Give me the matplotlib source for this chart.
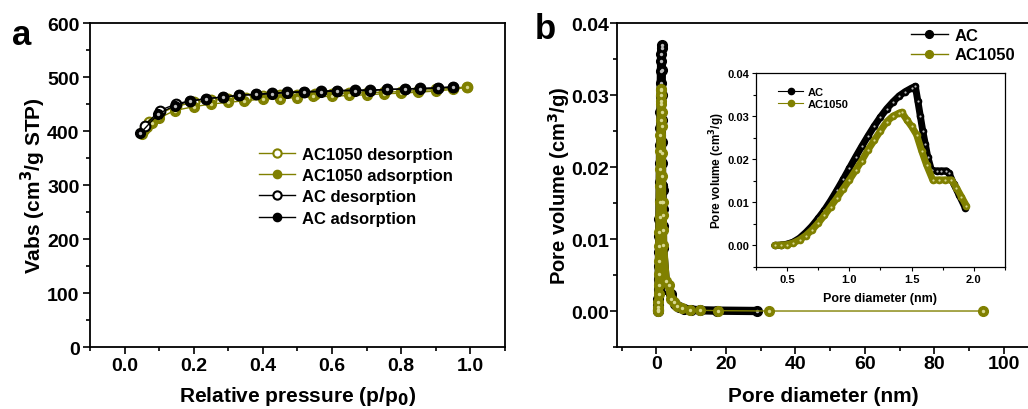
import matplotlib
matplotlib.use('Agg')
import matplotlib.pyplot as plt
from matplotlib.ticker import MultipleLocator

plt.rcParams['font.family'] = ['Liberation Sans', 'DejaVu Sans']
plt.rcParams['font.weight'] = 'bold'
plt.rcParams['axes.labelweight'] = 'bold'

OLIVE = '#808000'

# ---- panel a: isotherms ----
ac_ads_p = [0.046, 0.098, 0.145, 0.188, 0.237, 0.286, 0.33, 0.38, 0.425, 0.47,
            0.52, 0.567, 0.613, 0.665, 0.71, 0.76, 0.81, 0.855, 0.905, 0.95]
ac_ads_v = [396, 432, 447, 455, 460, 463, 466, 468, 469, 471,
            472, 473, 474, 475, 475, 477, 478, 478, 480, 481]
ac_des_p = [0.95, 0.905, 0.855, 0.81, 0.76, 0.71, 0.665, 0.613, 0.567, 0.52,
            0.47, 0.425, 0.38, 0.33, 0.286, 0.237, 0.19, 0.148, 0.102, 0.058]
ac_des_v = [482, 480, 479, 478, 477, 476, 476, 475, 474, 473,
            472, 470, 468, 466, 463, 460, 456, 450, 438, 410]
ac1050_ads_p = [0.05, 0.055, 0.065, 0.08, 0.1, 0.145, 0.2, 0.25, 0.3, 0.345,
                0.4, 0.45, 0.5, 0.546, 0.6, 0.65, 0.7, 0.75, 0.8, 0.85, 0.9, 0.95, 0.99]
ac1050_ads_v = [395, 402, 407, 415, 424, 438, 445, 450, 453, 456,
                459, 460, 462, 464, 464, 466, 467, 469, 470, 472, 474, 477, 481]
ac1050_des_p = [0.99, 0.95, 0.9, 0.85, 0.8, 0.75, 0.7, 0.65, 0.6, 0.55,
                0.5, 0.45, 0.4, 0.35, 0.3, 0.25, 0.2, 0.15, 0.1, 0.07]
ac1050_des_v = [482, 479, 477, 475, 473, 472, 471, 470, 469, 468,
                467, 466, 464, 462, 460, 457, 453, 446, 432, 416]

# ---- panel b: pore size distribution ----
ac_d = [0.40, 0.45, 0.50, 0.55, 0.60, 0.65, 0.70, 0.75, 0.80, 0.85, 0.90, 0.95,
        1.00, 1.05, 1.10, 1.15, 1.20, 1.25, 1.30, 1.35, 1.40, 1.45, 1.50, 1.53,
        1.55, 1.57, 1.59, 1.61, 1.63, 1.66, 1.70, 1.74, 1.78, 1.80, 1.84, 1.88, 1.93]
ac_pv = [0.0000, 0.0001, 0.0003, 0.0008, 0.0017, 0.0030, 0.0045, 0.0063, 0.0082,
         0.0104, 0.0128, 0.0153, 0.0179, 0.0205, 0.0230, 0.0254, 0.0277, 0.0298,
         0.0317, 0.0333, 0.0347, 0.0357, 0.0365, 0.0369, 0.0335, 0.0300, 0.0265,
         0.0235, 0.0205, 0.0174, 0.0173, 0.0173, 0.0173, 0.0168, 0.0142, 0.0118, 0.0088]
ac1050_d = [0.40, 0.45, 0.50, 0.55, 0.60, 0.65, 0.70, 0.75, 0.80, 0.85, 0.90, 0.95,
            1.00, 1.05, 1.10, 1.15, 1.20, 1.25, 1.30, 1.35, 1.40, 1.42, 1.46, 1.50,
            1.54, 1.58, 1.62, 1.67, 1.72, 1.77, 1.82, 1.86, 1.90, 1.94]
ac1050_pv = [0.0000, 0.0001, 0.0002, 0.0006, 0.0013, 0.0023, 0.0036, 0.0052, 0.0070,
             0.0090, 0.0110, 0.0131, 0.0152, 0.0174, 0.0197, 0.0222, 0.0244, 0.0266,
             0.0287, 0.0300, 0.0307, 0.0309, 0.0292, 0.0276, 0.0257, 0.0220, 0.0187,
             0.0152, 0.0152, 0.0152, 0.0152, 0.0134, 0.0113, 0.0092]
# larger pores (main panel only)
ac_tail_d = [2.9, 4.3, 5.3, 6.5, 8.0, 10.0, 12.5, 17.6, 29.1]
ac_tail_pv = [0.0031, 0.0024, 0.0010, 0.0005, 0.0003, 0.0002, 0.0001, 0.00005, 0.0]
ac1050_tail_d = [2.7, 3.7, 4.3, 5.0, 5.9, 7.4, 9.6, 12.5, 17.8, 32.5, 94.1]
ac1050_tail_pv = [0.0041, 0.0036, 0.0017, 0.0012, 0.0007, 0.0004, 0.0002, 0.0001,
                  0.00005, 0.0, 0.0]


def ball(ax, x, y, color, ms, hl, lw=1.0, ls='-', label=None, z=3):
    # filled sphere-like marker: solid dot with a light centre highlight
    ax.plot(x, y, ls=ls, color=color, lw=lw, marker='o', ms=ms, mfc=color,
            mec=color, label=label, zorder=z)
    ax.plot(x, y, ls='none', marker='o', ms=ms * 0.35, mfc=hl, mec='none', zorder=z)


def ring(ax, x, y, color, ms, lw=1.0, ls='-', label=None, z=3):
    ax.plot(x, y, ls=ls, color=color, lw=lw, marker='o', ms=ms, mfc='white',
            mec=color, mew=1.5, label=label, zorder=z)


def style(ax, size, pad=2):
    for s in ax.spines.values():
        s.set_linewidth(1.3)
    ax.tick_params(which='both', direction='out', top=False, right=False,
                   width=1.2, labelsize=size, pad=pad)
    ax.tick_params(which='major', length=5)
    ax.tick_params(which='minor', length=3)
    for lab in ax.get_xticklabels() + ax.get_yticklabels():
        lab.set_fontweight('bold')


def place_labels(ax, xy, yx):
    ax.xaxis.set_label_coords(0.5, xy)
    ax.yaxis.set_label_coords(yx, 0.5)
    ax.xaxis.label.set_va('center')
    ax.yaxis.label.set_va('center')


fig = plt.figure(figsize=(10.28, 4.10), dpi=100)

# panel a
ax1 = fig.add_axes([0.0875, 0.1512, 0.4037, 0.7902])
ring(ax1, ac1050_des_p, ac1050_des_v, OLIVE, 7, label='AC1050 desorption', z=2)
ball(ax1, ac1050_ads_p, ac1050_ads_v, OLIVE, 7, '#d8d890', label='AC1050 adsorption', z=3)
ring(ax1, ac_des_p, ac_des_v, 'black', 7, label='AC desorption', z=4)
ball(ax1, ac_ads_p, ac_ads_v, 'black', 7, '#bbbbbb', label='AC adsorption', z=5)
ax1.set_xlim(-0.1, 1.1)
ax1.set_ylim(0, 600)
ax1.xaxis.set_major_locator(MultipleLocator(0.2))
ax1.xaxis.set_minor_locator(MultipleLocator(0.1))
ax1.yaxis.set_major_locator(MultipleLocator(100))
ax1.yaxis.set_minor_locator(MultipleLocator(50))
ax1.xaxis.set_major_formatter(plt.FormatStrFormatter('%.1f'))
style(ax1, 14, pad=2.5)
ax1.set_xlabel('Relative pressure (p/p$_\\mathbf{0}$)', fontsize=15)
ax1.set_ylabel('Vabs (cm$^\\mathbf{3}$/g STP)', fontsize=15)
place_labels(ax1, -0.151, -0.137)
ax1.legend(loc='upper left', bbox_to_anchor=(0.37, 0.665), frameon=False,
           handlelength=2.2, handletextpad=0.4, labelspacing=0.38, markerscale=0.85,
           prop={'weight': 'bold', 'size': 12})
fig.text(0.012, 0.89, 'a', fontsize=25, fontweight='bold')

# panel b
ax2 = fig.add_axes([0.6002, 0.1512, 0.4018, 0.7902])
ax2.plot(ac_d + ac_tail_d, ac_pv + ac_tail_pv, color='black', lw=6, zorder=2,
         solid_capstyle='round')
ball(ax2, ac_d + ac_tail_d, ac_pv + ac_tail_pv, 'black', 7, '#bbbbbb', label='AC', z=3)
ax2.plot(ac1050_d + ac1050_tail_d[:3], ac1050_pv + ac1050_tail_pv[:3], color=OLIVE,
         lw=6, zorder=4, solid_capstyle='round')
ball(ax2, ac1050_d + ac1050_tail_d, ac1050_pv + ac1050_tail_pv, OLIVE, 7, '#d8d890',
     label='AC1050', z=5)
ax2.set_xlim(-11.3, 107.5)
ax2.set_ylim(-0.005, 0.04)
ax2.xaxis.set_major_locator(MultipleLocator(20))
ax2.xaxis.set_minor_locator(MultipleLocator(10))
ax2.yaxis.set_major_locator(MultipleLocator(0.01))
ax2.yaxis.set_minor_locator(MultipleLocator(0.005))
ax2.yaxis.set_major_formatter(plt.FormatStrFormatter('%.2f'))
style(ax2, 14, pad=1)
ax2.set_xlabel('Pore diameter (nm)', fontsize=15)
ax2.set_ylabel('Pore volume (cm$^\\mathbf{3}$/g)', fontsize=14.5)
place_labels(ax2, -0.151, -0.14)
ax2.legend(loc='upper right', bbox_to_anchor=(1.0, 1.03), frameon=False,
           handlelength=2.2, handletextpad=0.4, labelspacing=0.25, markerscale=0.8,
           prop={'weight': 'bold', 'size': 12})
fig.text(0.52, 0.905, 'b', fontsize=25, fontweight='bold')

# inset
ax3 = fig.add_axes([0.7354, 0.3463, 0.2422, 0.4732])
ax3.plot(ac_d, ac_pv, color='black', lw=5, zorder=2, solid_capstyle='round')
ball(ax3, ac_d, ac_pv, 'black', 4.5, '#bbbbbb', lw=0.8, label='AC', z=3)
ax3.plot(ac1050_d, ac1050_pv, color=OLIVE, lw=5, zorder=4, solid_capstyle='round')
ball(ax3, ac1050_d, ac1050_pv, OLIVE, 4.5, '#d8d890', lw=0.8, label='AC1050', z=5)
ax3.set_xlim(0.25, 2.25)
ax3.set_ylim(-0.005, 0.04)
ax3.xaxis.set_major_locator(MultipleLocator(0.5))
ax3.xaxis.set_minor_locator(MultipleLocator(0.25))
ax3.yaxis.set_major_locator(MultipleLocator(0.01))
ax3.yaxis.set_minor_locator(MultipleLocator(0.005))
ax3.yaxis.set_major_formatter(plt.FormatStrFormatter('%.2f'))
style(ax3, 8)
for s in ax3.spines.values():
    s.set_linewidth(0.9)
ax3.tick_params(which='major', length=3, width=0.8)
ax3.tick_params(which='minor', length=2, width=0.8)
ax3.set_xlabel('Pore diameter (nm)', fontsize=9)
ax3.set_ylabel('Pore volume (cm$^\\mathbf{3}$/g)', fontsize=8.5)
place_labels(ax3, -0.16, -0.157)
ax3.legend(loc='upper left', bbox_to_anchor=(0.05, 0.98), frameon=False,
           handlelength=2.2, handletextpad=0.4, labelspacing=0.2,
           prop={'weight': 'bold', 'size': 8})

fig.savefig('out.png', dpi=100)
